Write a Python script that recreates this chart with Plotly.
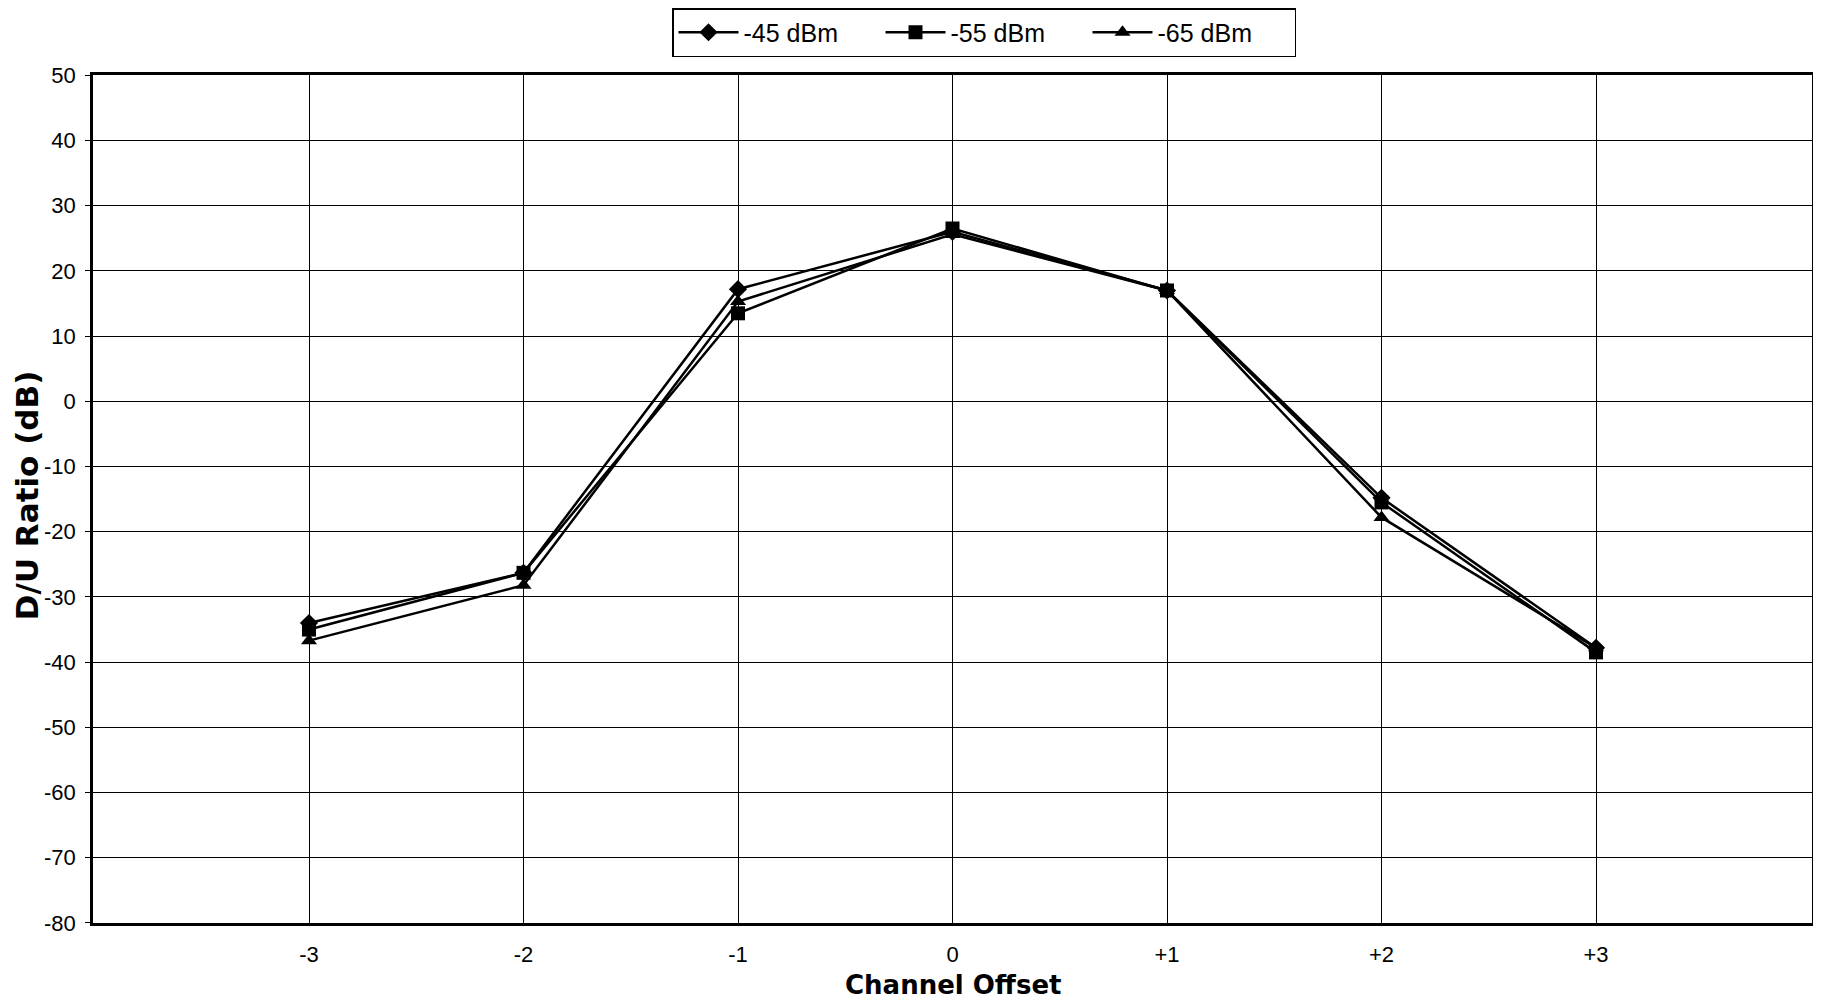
import plotly.graph_objects as go

offsets = [-3, -2, -1, 0, 1, 2, 3]
offset_labels = ["-3", "-2", "-1", "0", "+1", "+2", "+3"]
y_ticks = [50, 40, 30, 20, 10, 0, -10, -20, -30, -40, -50, -60, -70, -80]
y_tick_labels = ["50", "40", "30", "20", "10", "0", "-10", "-20", "-30", "-40", "-50", "-60", "-70", "-80"]
s45 = [-34.0, -26.3, 17.2, 26.0, 17.0, -14.8, -37.8]
s55 = [-35.0, -26.3, 13.5, 26.5, 17.0, -15.5, -38.5]
s65 = [-36.7, -28.2, 15.3, 25.6, 17.0, -17.8, -37.8]
series = [("-45 dBm", s45, "diamond"), ("-55 dBm", s55, "square"), ("-65 dBm", s65, "triangle-up")]

fig = go.Figure()
for name, vals, sym in series:
    fig.add_trace(go.Scatter(x=offsets, y=vals, name=name, mode="lines+markers",
                             line=dict(color="black", width=2.5),
                             marker=dict(symbol=sym, size=14, color="black")))

W, H = 1813, 995
fig.update_layout(
    width=W, height=H,
    margin=dict(l=85, r=6, t=65, b=80),
    paper_bgcolor="white", plot_bgcolor="white",
    font=dict(family="Liberation Sans, Arial", color="black"),
    showlegend=True,
    legend=dict(orientation="h", x=664 / W, xref="container", xanchor="left",
                y=1.0, yref="container", yanchor="top",
                bordercolor="black", borderwidth=1.5, font=dict(size=25),
                entrywidth=132, entrywidthmode="pixels", itemwidth=60),
    xaxis=dict(range=[-4.007, 4.007], tickvals=offsets, ticktext=offset_labels,
               showgrid=True, gridcolor="black", gridwidth=1.2, zeroline=False,
               showline=True, linecolor="black", linewidth=2.5, mirror=True,
               tickfont=dict(size=22), ticks="", ticklabelstandoff=10),
    yaxis=dict(range=[-80, 50], tickvals=y_ticks, ticktext=y_tick_labels,
               showgrid=True, gridcolor="black", gridwidth=1.2,
               zeroline=False, showline=True, linecolor="black", linewidth=2.5, mirror=True,
               ticks="outside", ticklen=5, tickcolor="black", tickfont=dict(size=22),
               ticklabelstandoff=5),
    annotations=[
        dict(text="<b>D/U Ratio (dB)</b>", x=0, xref="paper", y=0.5, yref="paper",
             xshift=-66, yshift=4, xanchor="center", yanchor="middle",
             textangle=-90, showarrow=False,
             font=dict(size=31, family="DejaVu Sans")),
        dict(text="<b>Channel Offset</b>", x=0.5, xref="paper", y=0, yref="paper",
             yshift=-62, yanchor="middle", showarrow=False,
             font=dict(size=26, family="DejaVu Sans")),
    ],
)
fig.write_html("out.html")
